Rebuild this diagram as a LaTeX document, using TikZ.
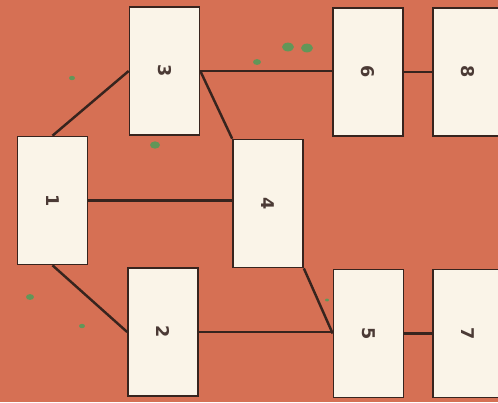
\documentclass[tikz,border=0pt]{standalone}
\usepackage{fontspec}
\setsansfont{DejaVu Sans}
\usepackage{tikz}
\usetikzlibrary{positioning}

\definecolor{bgorange}{RGB}{214,112,84}
\definecolor{boxcream}{RGB}{250,244,232}
\definecolor{inkbrown}{RGB}{55,36,30}
\definecolor{spotgreen}{RGB}{70,160,90}

\begin{document}
\begin{tikzpicture}[
    x=0.3mm, y=-0.3mm,
    font=\fontsize{15}{18}\selectfont\sffamily\bfseries,
    blk/.style={
        draw=inkbrown, line width=1.4pt, fill=boxcream, minimum width=2.1cm, minimum height=3.84cm,
        inner sep=0pt, text=inkbrown!90
    },
    link/.style={draw=inkbrown, line width=2.1pt},
    spot/.style={fill=spotgreen, opacity=0.8}
]

% PAPER (498 x 402)
\useasboundingbox (0,0) rectangle (498,402);
\clip (0,0) rectangle (498,402);
\fill[bgorange] (0,0) rectangle (498,402);

% green flecks
\foreach \sx/\sy/\sr in {288/47/6, 307/48/6, 257/62/4, 155/145/5, 30/297/4, 82/326/3, 72/78/3, 327/300/2}
    \fill[spot] (\sx,\sy) ellipse ({\sr*0.3mm} and {\sr*0.22mm});

% BOXES
\node[blk] (n1) at (52.5,200.5) {\rotatebox{-90}{1}};
\node[blk] (n2) at (163,332) {\rotatebox{-90}{2}};
\node[blk] (n3) at (164.5,71) {\rotatebox{-90}{3}};
\node[blk] (n4) at (268,203.5) {\rotatebox{-90}{4}};
\node[blk] (n5) at (368.5,333.5) {\rotatebox{-90}{5}};
\node[blk] (n6) at (368,72) {\rotatebox{-90}{6}};
\node[blk] (n7) at (468,333.5) {\rotatebox{-90}{7}};
\node[blk] (n8) at (468,72) {\rotatebox{-90}{8}};

% LINKS
\draw[link] (n1.north) -- (n3.west);
\draw[link] (n1.south) -- (n2.west);
\draw[link] (n1.east) -- (n1.east -| n4.west);

\draw[link] (n3.east) -- (n3.east -| n6.west);
\draw[link] (n3.east) -- (n4.north west);
\draw[link] (n6.east) -- (n6.east -| n8.west);

\draw[link] (n2.east) -- (n2.east -| n5.west);
\draw[link] (n4.south east) -- (n5.west);
\draw[link] (n5.east) -- (n5.east -| n7.west);

\end{tikzpicture}
\end{document}
